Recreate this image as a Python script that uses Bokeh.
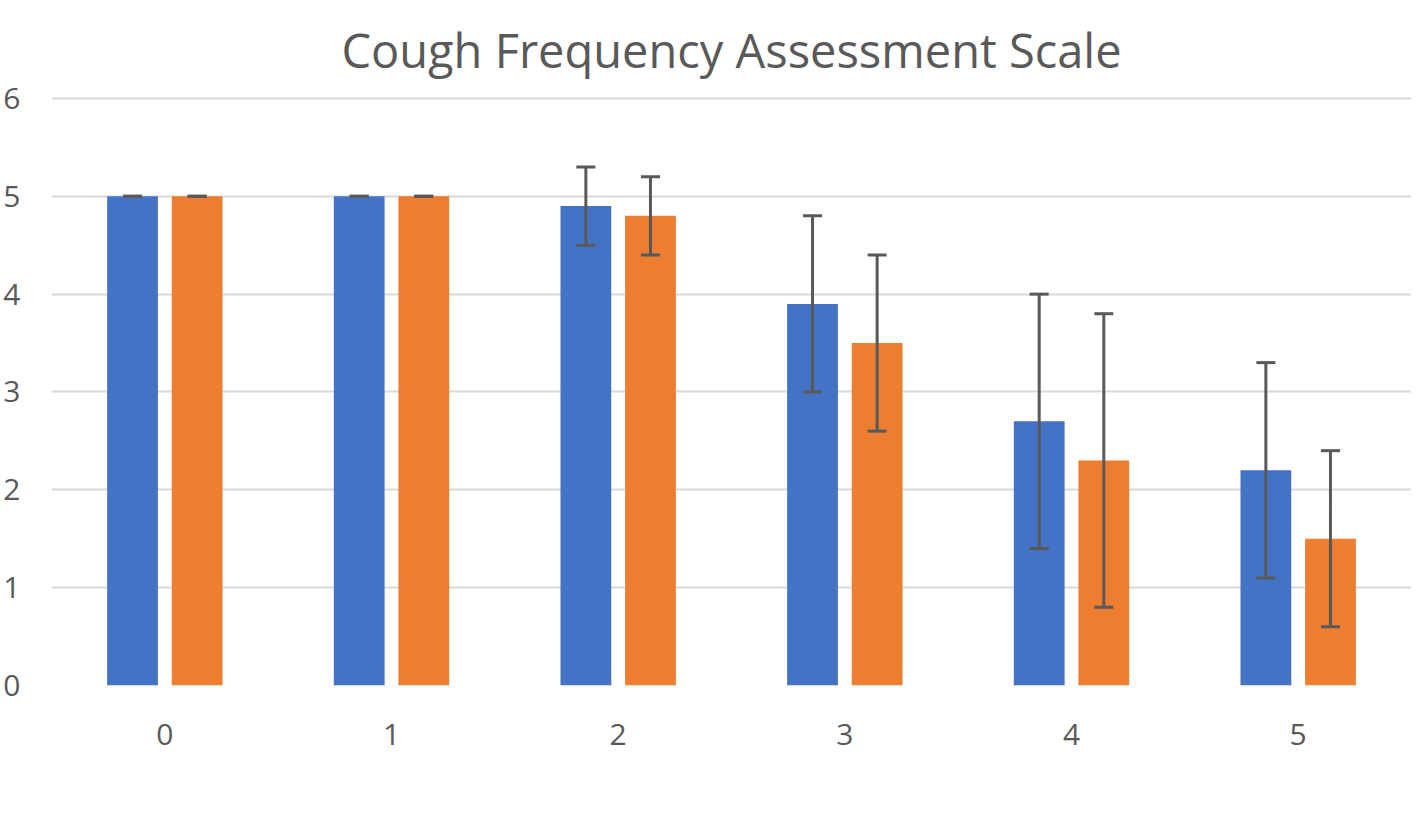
from bokeh.plotting import figure
from bokeh.models import (ColumnDataSource, Range1d, Whisker, TeeHead, Legend,
                          LegendItem, FixedTicker, Title)
from bokeh.embed import file_html
from bokeh.resources import INLINE

categories = [0, 1, 2, 3, 4, 5]
cg_values = [5.0, 5.0, 4.9, 3.9, 2.7, 2.2]
mg_values = [5.0, 5.0, 4.8, 3.5, 2.3, 1.5]
cg_errors = [0.0, 0.0, 0.4, 0.9, 1.3, 1.1]
mg_errors = [0.0, 0.0, 0.4, 0.9, 1.5, 0.9]
series_names = ["CG", "MG"]
colors = ["#4472C4", "#ED7D31"]
y_ticks = [0, 1, 2, 3, 4, 5, 6]
title_text = "Cough Frequency Assessment Scale"

FONT = "Open Sans"
TXT = "#595959"

p = figure(frame_width=1360, frame_height=589, output_backend="svg",
           toolbar_location=None,
           x_range=Range1d(-0.5, 5.5), y_range=Range1d(0, 6.02))
p.title = None
p.add_layout(Title(text=title_text, align="center",
                   text_font=FONT, text_font_size="47px", text_font_style="normal",
                   text_color=TXT, standoff=30, text_line_height=0.9), "above")
p.min_border_left = 42
p.min_border_right = 0
p.min_border_top = 0
p.min_border_bottom = 0
p.outline_line_color = None
p.background_fill_color = "white"
p.border_fill_color = "white"

offset = 0.1425
bw = 0.224
renderers = []
for vals, errs, sign, col in [(cg_values, cg_errors, -1, colors[0]),
                              (mg_values, mg_errors, 1, colors[1])]:
    xs = [c + sign * offset for c in categories]
    src = ColumnDataSource(dict(x=xs, top=vals,
                                upper=[v + e for v, e in zip(vals, errs)],
                                lower=[v - e for v, e in zip(vals, errs)]))
    r = p.vbar(x="x", top="top", width=bw, bottom=0, source=src,
               fill_color=col, line_color=None)
    renderers.append(r)
    w = Whisker(base="x", upper="upper", lower="lower", source=src,
                line_color="#595959", line_width=3, level="overlay",
                upper_head=TeeHead(size=19, line_color="#595959", line_width=3),
                lower_head=TeeHead(size=19, line_color="#595959", line_width=3))
    p.add_layout(w)

p.xaxis.ticker = FixedTicker(ticks=categories)
p.yaxis.ticker = FixedTicker(ticks=y_ticks)
for ax in (p.xaxis[0], p.yaxis[0]):
    ax.axis_line_color = None
    ax.major_tick_line_color = None
    ax.minor_tick_line_color = None
    ax.major_label_text_font = FONT
    ax.major_label_text_font_size = "30px"
    ax.major_label_text_color = TXT
p.xaxis.major_label_standoff = 32
p.yaxis.major_label_standoff = 25

p.xgrid.grid_line_color = None
p.ygrid.grid_line_color = "#D9D9D9"
p.ygrid.grid_line_width = 2

legend = Legend(items=[LegendItem(label=series_names[i], renderers=[renderers[i]])
                       for i in range(2)],
                orientation="horizontal", location="top_center",
                label_text_font=FONT, label_text_font_size="30px",
                label_text_color=TXT, glyph_width=20, glyph_height=20,
                spacing=22, label_standoff=10, border_line_color=None,
                background_fill_alpha=0, margin=26, padding=0)
p.add_layout(legend, "below")

open("out.html", "w").write(file_html(p, INLINE))
